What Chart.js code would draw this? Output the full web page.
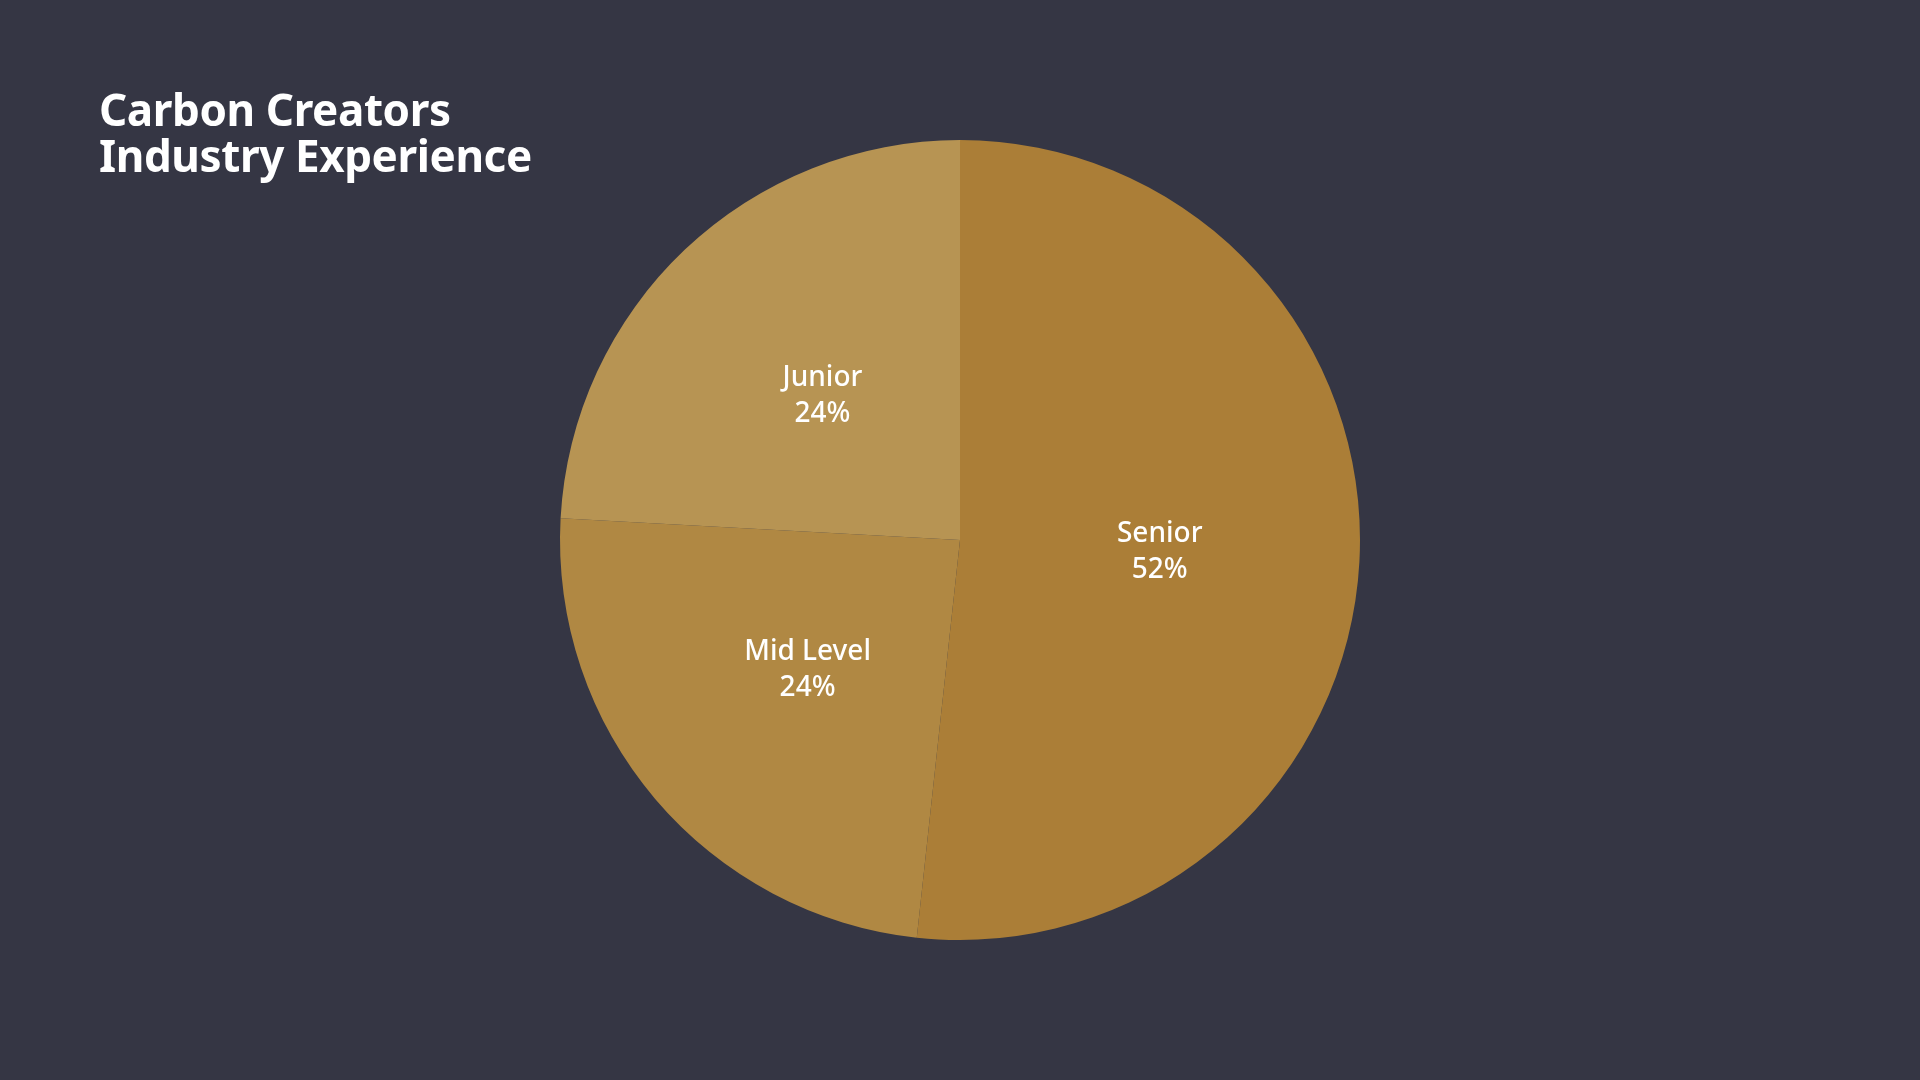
<!DOCTYPE html>
<html>
<head>
<meta charset="utf-8">
<script src="https://cdn.jsdelivr.net/npm/chart.js@4"></script>
<style>
  html, body { margin: 0; padding: 0; background: #353644; }
  #wrap { position: relative; width: 1920px; height: 1080px; }
  #title {
    position: absolute; left: 99px; top: 86px; margin: 0;
    font-family: "Noto Sans", sans-serif; font-weight: 700; font-size: 44px;
    line-height: 46px; color: #ffffff; letter-spacing: -0.4px;
  }
  canvas { position: absolute; left: 0; top: 0; }
</style>
</head>
<body>
<div id="wrap">
  <canvas id="chart" width="1920" height="1080"></canvas>
  <h1 id="title">Carbon Creators<br>Industry Experience</h1>
</div>
<script>
const categories = ['Senior', 'Mid Level', 'Junior'];
const counts = [15, 7, 7];
const sliceColors = ['#ab7e37', '#b08843', '#b79453'];

const total = counts.reduce((a, b) => a + b, 0);

// labels drawn in the middle of each slice
const sliceLabels = {
  id: 'sliceLabels',
  afterDatasetsDraw(chart) {
    const ctx = chart.ctx;
    const meta = chart.getDatasetMeta(0);
    ctx.save();
    ctx.fillStyle = '#ffffff';
    ctx.font = '500 28px "Noto Sans", sans-serif';
    ctx.textAlign = 'center';
    ctx.textBaseline = 'middle';
    meta.data.forEach((arc, i) => {
      const mid = (arc.startAngle + arc.endAngle) / 2;
      const r = arc.outerRadius * 0.5;
      const x = arc.x + Math.cos(mid) * r;
      const y = arc.y + Math.sin(mid) * r;
      const pct = Math.round(counts[i] / total * 100);
      ctx.fillText(categories[i], x, y - 17);
      ctx.fillText(pct + '%', x, y + 19);
    });
    ctx.restore();
  }
};

new Chart(document.getElementById('chart'), {
  type: 'pie',
  data: {
    labels: categories,
    datasets: [{
      data: counts,
      backgroundColor: sliceColors,
      borderWidth: 0
    }]
  },
  options: {
    responsive: false,
    animation: false,
    layout: { padding: { top: 140, bottom: 140 } },
    plugins: {
      legend: { display: false },
      tooltip: { enabled: false }
    }
  },
  plugins: [sliceLabels]
});
</script>
</body>
</html>
